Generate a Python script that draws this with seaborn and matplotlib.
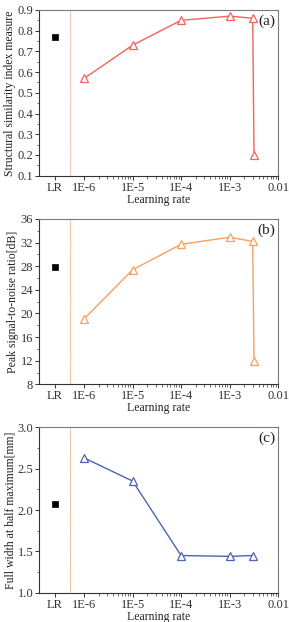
import numpy as np
import pandas as pd
import seaborn as sns
import matplotlib
matplotlib.use("Agg")
import matplotlib.pyplot as plt
from matplotlib.ticker import FixedLocator, MultipleLocator

sns.set_theme(style="white")
plt.rcParams["font.family"] = ["Liberation Serif", "DejaVu Serif"]

# ---- data -----------------------------------------------------------------
lr_x = [1e-6, 1e-5, 1e-4, 1e-3, 3e-3, 3.2e-3]
lr_x_fwhm = [1e-6, 1e-5, 1e-4, 1e-3, 3e-3]
ssim = [0.57, 0.73, 0.85, 0.87, 0.86, 0.20]
psnr = [19.1, 27.4, 31.7, 32.9, 32.2, 11.9]
fwhm = [2.63, 2.35, 1.45, 1.44, 1.45]

ref_x = 2.5e-7          # position of the "LR" reference point
ref_ssim = 0.77
ref_psnr = 27.8
ref_fwhm = 2.07
sep_x = 5e-7            # dashed separator

tick_pos = [2.5e-7, 1e-6, 1e-5, 1e-4, 1e-3, 1e-2]
tick_lbl = ["LR", "1E-6", "1E-5", "1E-4", "1E-3", "0.01"]

panels = [
    dict(y=ssim, x=lr_x, ref=ref_ssim, tag="(a)", color="#f0645a",
         sep="#f4a0a0", ylabel="Structural similarity index measure",
         ylim=(0.1, 0.9), major=0.1, minor=0.05, fmt="{:.1f}"),
    dict(y=psnr, x=lr_x, ref=ref_psnr, tag="(b)", color="#f7a060",
         sep="#f4a070", ylabel="Peak signal-to-noise ratio[dB]",
         ylim=(8, 36), major=4, minor=2, fmt="{:.0f}"),
    dict(y=fwhm, x=lr_x_fwhm, ref=ref_fwhm, tag="(c)", color="#4a64b4",
         sep="#e8a070", ylabel="Full width at half maximum[mm]",
         ylim=(1.0, 3.0), major=0.5, minor=0.25, fmt="{:.1f}"),
]

fig = plt.figure(figsize=(2.89, 6.22), dpi=100)
boxes = [(0.135, 0.7175, 0.827, 0.2665),
         (0.135, 0.382, 0.827, 0.266),
         (0.135, 0.047, 0.827, 0.266)]

minor_x = [m * 10.0 ** k for k in range(-6, -2) for m in range(2, 10)]

for box, p in zip(boxes, panels):
    ax = fig.add_axes(box)
    df = pd.DataFrame({"lr": p["x"], "val": p["y"]})
    sns.lineplot(data=df, x="lr", y="val", sort=False, ax=ax, color=p["color"],
                 lw=1.0, marker="^", markersize=5.5, markerfacecolor="white",
                 markeredgecolor=p["color"], markeredgewidth=0.9)
    sns.scatterplot(x=[ref_x], y=[p["ref"]], ax=ax, marker="s", s=20,
                    color="black", edgecolor="black", linewidth=0.5)
    ax.axvline(sep_x, color=p["sep"], lw=0.7, ls=(0, (1, 0.6)))
    ax.set_xscale("log")
    ax.set_xlim(1.17e-7, 1e-2)
    ax.set_ylim(*p["ylim"])
    ax.xaxis.set_major_locator(FixedLocator(tick_pos))
    ax.set_xticklabels(tick_lbl)
    ax.xaxis.set_minor_locator(FixedLocator(minor_x))
    ax.yaxis.set_major_locator(MultipleLocator(p["major"]))
    ax.yaxis.set_minor_locator(MultipleLocator(p["minor"]))
    ax.set_yticklabels([p["fmt"].format(v) for v in ax.get_yticks()])
    ax.tick_params(axis="both", which="major", direction="out", length=3,
                   width=0.7, labelsize=9, pad=1.2, colors="#333333",
                   bottom=True, left=True)
    ax.tick_params(axis="both", which="minor", direction="out", length=1.8,
                   width=0.5, bottom=True, left=True, colors="#333333")
    for s in ax.spines.values():
        s.set_color("#7a7a7a")
        s.set_linewidth(0.8)
    ax.spines["left"].set_color("#333333")
    ax.spines["bottom"].set_color("#333333")
    ax.set_xlabel("Learning rate", fontsize=8.5, labelpad=0, color="#222222")
    ax.set_ylabel(p["ylabel"], fontsize=8.5, labelpad=1, color="#222222")
    ax.text(0.99, 0.975, p["tag"], transform=ax.transAxes, ha="right",
            va="top", fontsize=11, color="#222222")

fig.savefig("out.png", dpi=100)
